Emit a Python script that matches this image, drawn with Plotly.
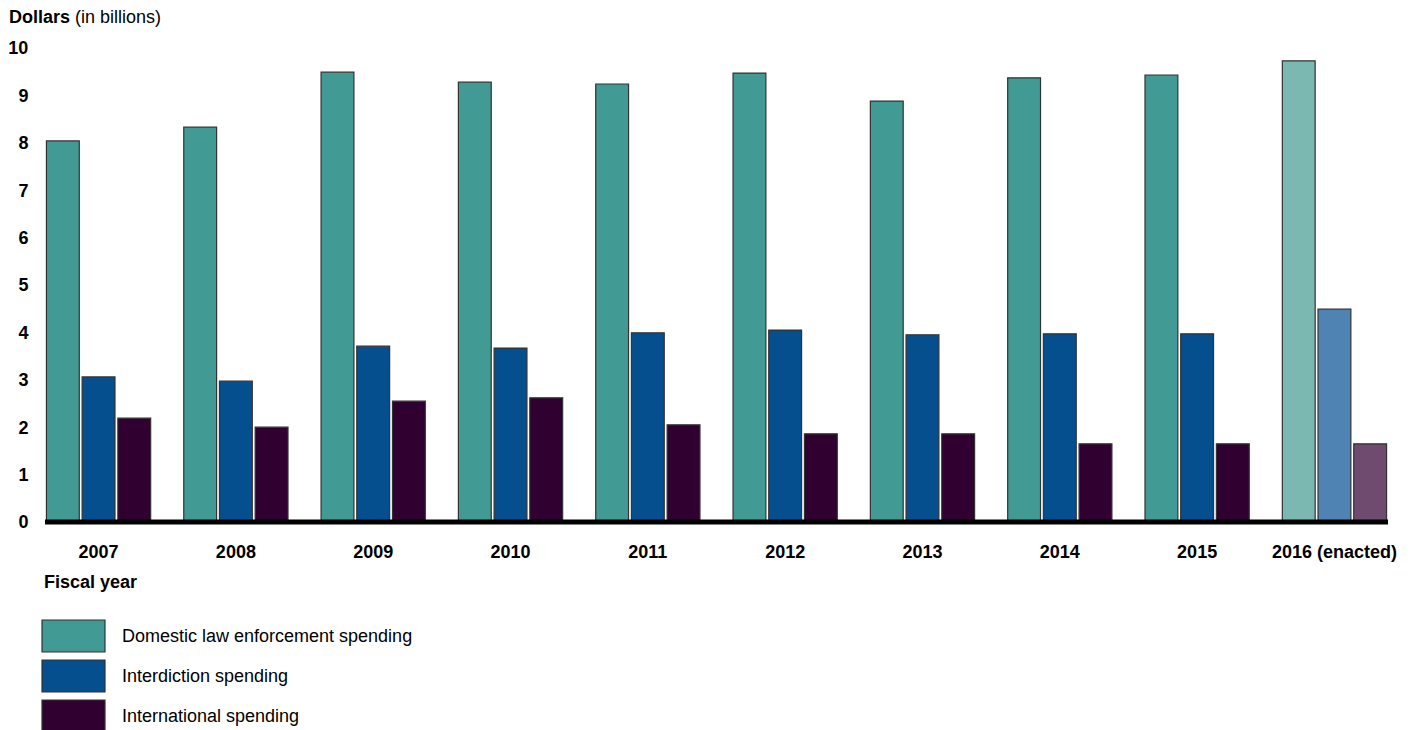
import plotly.graph_objects as go

years = ["2007", "2008", "2009", "2010", "2011", "2012", "2013", "2014", "2015", "2016 (enacted)"]
domestic = [8.04, 8.33, 9.49, 9.28, 9.24, 9.47, 8.88, 9.37, 9.43, 9.73]
interdiction = [3.06, 2.97, 3.71, 3.67, 3.99, 4.05, 3.95, 3.97, 3.97, 4.49]
international = [2.19, 2.00, 2.55, 2.62, 2.05, 1.86, 1.86, 1.65, 1.65, 1.65]
series_names = ["Domestic law enforcement spending", "Interdiction spending", "International spending"]
base_colors = ["#419a93", "#054f8f", "#2f0030"]
enacted_colors = ["#7bb8b2", "#4e83b4", "#6f4b6f"]

FONT = "Arial, Liberation Sans, sans-serif"
FS = 18

fig = go.Figure()
for name, vals, c, ce in zip(series_names, [domestic, interdiction, international], base_colors, enacted_colors):
    colors = [c] * (len(years) - 1) + [ce]
    fig.add_trace(go.Bar(
        x=years, y=vals, name=name,
        marker=dict(color=colors, line=dict(color="#333333", width=1.2)),
        showlegend=False, hoverinfo="skip",
    ))

# plot area pixel geometry
L, R, T, B = 45, 1388, 48, 522
W, H = 1413, 730
pw, ph = R - L, B - T

def px(x):
    return (x - L) / pw

def py(y):
    return (B - y) / ph

shapes = [dict(type="line", xref="paper", yref="paper", x0=0, x1=1, y0=0, y1=0,
               line=dict(color="black", width=5), layer="above")]
annotations = [
    dict(text="<b>Dollars</b> (in billions)", xref="paper", yref="paper",
         x=px(7), y=py(17), xanchor="left", yanchor="middle", showarrow=False,
         font=dict(size=FS, color="black", family=FONT)),
    dict(text="<b>Fiscal year</b>", xref="paper", yref="paper",
         x=px(42), y=py(582), xanchor="left", yanchor="middle", showarrow=False,
         font=dict(size=FS, color="black", family=FONT)),
]
row_tops = [620, 660, 700]
for name, c, top in zip(series_names, base_colors, row_tops):
    shapes.append(dict(type="rect", xref="paper", yref="paper",
                       x0=px(42), x1=px(105), y0=py(top), y1=py(top + 32),
                       fillcolor=c, line=dict(color="#333333", width=1.2)))
    annotations.append(dict(text=name, xref="paper", yref="paper",
                            x=px(120), y=py(top + 16), xanchor="left", yanchor="middle",
                            showarrow=False, font=dict(size=FS, color="black", family=FONT)))

fig.update_layout(
    width=W, height=H, autosize=False,
    margin=dict(l=L, r=W - R, t=T, b=H - B, pad=0),
    paper_bgcolor="white", plot_bgcolor="white",
    barmode="group", bargap=0.22, bargroupgap=0.08,
    font=dict(family=FONT, color="black", size=FS),
    shapes=shapes, annotations=annotations,
    xaxis=dict(range=[-0.39, 9.39], showgrid=False, zeroline=False, showline=False,
               automargin=False,
               ticks="outside", ticklen=13, tickcolor="rgba(0,0,0,0)",
               tickfont=dict(size=FS, weight="bold", color="black", family=FONT)),
    yaxis=dict(range=[0, 10], dtick=1, showgrid=False, zeroline=False, showline=False,
               automargin=False,
               ticks="outside", ticklen=12, tickcolor="rgba(0,0,0,0)",
               tickfont=dict(size=FS, weight="bold", color="black", family=FONT)),
)

fig.write_html("out.html", config={"displayModeBar": False},
               post_script="document.body.style.margin='0';document.body.style.overflow='hidden';")
